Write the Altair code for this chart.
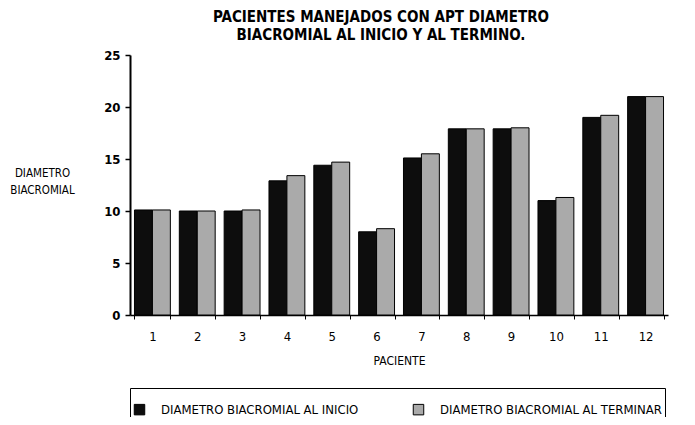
import altair as alt
import pandas as pd

pacientes = [str(i) for i in range(1, 13)]
inicio = [10.1, 10.0, 10.0, 12.9, 14.4, 8.0, 15.1, 17.9, 17.9, 11.0, 19.0, 21.0]
termino = [10.1, 10.0, 10.1, 13.4, 14.7, 8.3, 15.5, 17.9, 18.0, 11.3, 19.2, 21.0]
series = ["DIAMETRO BIACROMIAL AL INICIO", "DIAMETRO BIACROMIAL AL TERMINAR"]
y_ticks = [0, 5, 10, 15, 20, 25]

rows = []
for p, a, b in zip(pacientes, inicio, termino):
    rows.append({"paciente": p, "serie": series[0], "valor": a})
    rows.append({"paciente": p, "serie": series[1], "valor": b})
df = pd.DataFrame(rows)

FONT = "Liberation Sans Narrow, DejaVu Sans Condensed, Arial Narrow, sans-serif"

chart = (
    alt.Chart(df)
    .mark_bar(stroke="black", strokeWidth=1)
    .encode(
        x=alt.X(
            "paciente:N",
            sort=pacientes,
            scale=alt.Scale(paddingInner=0.2, paddingOuter=0.1),
            axis=alt.Axis(
                title="PACIENTE",
                labelAngle=0,
                tickBand="extent",
                tickSize=4,
                tickColor="black",
                domainColor="black",
                domainWidth=1.5,
                labelPadding=11,
                labelFontSize=13,
                labelColor="black",
                titleFontSize=12,
                titleFontWeight="normal",
                titleColor="black",
                titlePadding=12,
            ),
        ),
        xOffset=alt.XOffset("serie:N", sort=series, scale=alt.Scale(paddingInner=0, paddingOuter=0)),
        y=alt.Y(
            "valor:Q",
            scale=alt.Scale(domain=[0, 25], nice=False),
            axis=alt.Axis(
                values=y_ticks,
                title=["DIAMETRO", "BIACROMIAL"],
                titleAngle=0,
                titleAlign="center",
                titleBaseline="top",
                titleX=-88,
                titleY=112,
                titleLineHeight=17,
                titleFontSize=11.5,
                titleFontWeight="normal",
                titleColor="black",
                grid=False,
                domainColor="black",
                domainWidth=2,
                tickColor="black",
                tickSize=5,
                tickWidth=1.5,
                labelPadding=5,
                labelFontSize=13,
                labelFontWeight="bold",
                labelColor="black",
            ),
        ),
        color=alt.Color(
            "serie:N",
            sort=series,
            scale=alt.Scale(domain=series, range=["#0d0d0d", "#aaaaaa"]),
            legend=alt.Legend(
                orient="none",
                legendX=0,
                legendY=333,
                direction="horizontal",
                title=" ",
                titleFontSize=9,
                titlePadding=3,
                strokeColor="black",
                padding=3,
                symbolType="square",
                symbolSize=110,
                symbolStrokeColor="black",
                symbolStrokeWidth=1,
                symbolOpacity=1,
                labelFontSize=13,
                labelColor="black",
                labelOffset=15,
                labelLimit=400,
                columnPadding=52,
                labelExpr="indexof(datum.label, 'TERMINAR') >= 0 ? datum.label + '\u00a0\u00a0\u00a0\u00a0\u00a0\u00a0\u00a0\u00a0\u00a0\u00a0\u00a0\u00a0' : datum.label",
            ),
        ),
    )
    .properties(
        width=538,
        height=260,
        autosize=alt.AutoSizeParams(type="none"),
        padding={"left": 122, "top": 47, "right": 19, "bottom": 102},
        title=alt.Title(
            ["PACIENTES MANEJADOS  CON APT DIAMETRO", "BIACROMIAL AL INICIO Y AL TERMINO."],
            fontSize=15,
            fontWeight="bold",
            anchor="middle",
            dx=-18,
            offset=6,
            lineHeight=18,
            color="black",
        ),
    )
    .configure(font=FONT)
    .configure_view(stroke=None)
)

chart.save("out.html", embed_options={"renderer": "svg", "actions": False})
